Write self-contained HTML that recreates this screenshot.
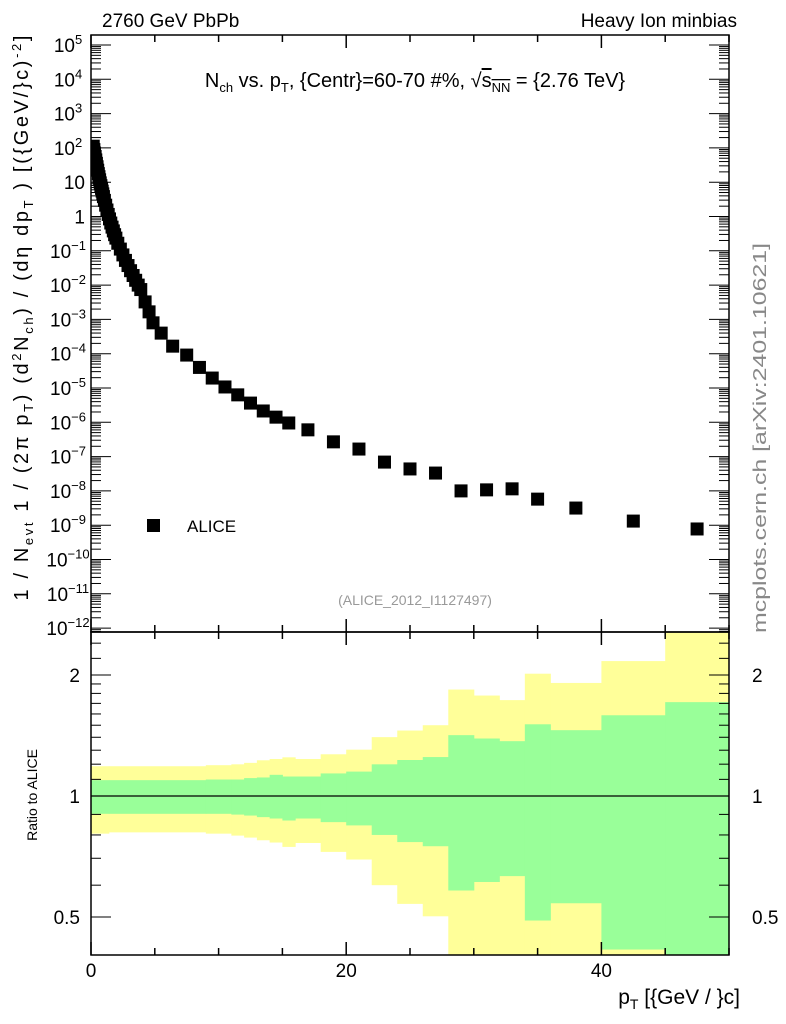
<!DOCTYPE html>
<html><head><meta charset="utf-8">
<style>
body{margin:0;background:#fff;}
svg{display:block;font-family:"Liberation Sans",sans-serif;}
</style></head>
<body>
<svg id="c" width="786" height="1024" viewBox="0 0 786 1024"></svg>
<script>
// ---- data ----
const ptValues = [0.175,0.225,0.275,0.325,0.375,0.425,0.475,0.525,0.575,0.625,0.675,0.725,0.775,0.825,0.875,0.925,0.975,1.05,1.15,1.25,1.35,1.45,1.55,1.65,1.75,1.85,1.95,2.1,2.3,2.5,2.7,2.9,3.1,3.3,3.5,3.7,3.9,4.24,4.55,4.86,5.5,6.4,7.5,8.5,9.5,10.5,11.5,12.5,13.5,14.5,15.5,17,19,21,23,25,27,29,31,33,35,38,42.5,47.5];
const log10Yield = [2.05,1.95,1.85,1.75,1.65,1.55,1.45,1.35,1.25,1.16,1.07,0.98,0.9,0.82,0.74,0.66,0.58,0.47,0.33,0.19,0.06,-0.07,-0.19,-0.31,-0.42,-0.53,-0.63,-0.78,-0.95,-1.12,-1.28,-1.43,-1.58,-1.72,-1.86,-2.0,-2.13,-2.49,-2.78,-3.1,-3.4,-3.78,-4.04,-4.4,-4.71,-4.97,-5.2,-5.44,-5.67,-5.85,-6.02,-6.22,-6.57,-6.78,-7.16,-7.36,-7.48,-8.0,-7.97,-7.94,-8.24,-8.5,-8.88,-9.11];
const binEdges = [0,1.4,9,11,12,13,14,15,16,18,20,22,24,26,28,30,32,34,36,40,45,50];
const yellowUp = [1.186,1.186,1.193,1.199,1.209,1.227,1.236,1.248,1.236,1.27,1.304,1.401,1.455,1.5,1.84,1.778,1.732,2.015,1.911,2.166,2.6];
const greenUp = [1.095,1.095,1.099,1.099,1.108,1.112,1.129,1.118,1.118,1.138,1.15,1.199,1.229,1.25,1.417,1.39,1.369,1.508,1.458,1.588,1.712];
const greenLo = [0.903,0.903,0.903,0.899,0.894,0.886,0.879,0.869,0.879,0.861,0.845,0.8,0.768,0.75,0.582,0.611,0.632,0.49,0.541,0.415,0.35];
const yellowLo = [0.806,0.812,0.806,0.797,0.788,0.776,0.766,0.747,0.764,0.726,0.695,0.6,0.539,0.502,0.35,0.35,0.35,0.35,0.35,0.35,0.35];
const xTickLabels = ["0","20","40"];
const ratioTickLabels = ["0.5","1","2"];

// ---- geometry ----
const L=91,R=729,T=35,MB=632,B=955;
const sx=v=>L+v*(R-L)/50;
const sy=lv=>45+(5-lv)*34.3;
const sr=r=>796-121*Math.log2(r);
const svg=document.getElementById('c');
const NS='http://www.w3.org/2000/svg';
function mk(tag,attrs,parent){const e=document.createElementNS(NS,tag);for(const k in attrs)e.setAttribute(k,attrs[k]);(parent||svg).appendChild(e);return e;}

const defs=mk('defs',{});
const cp=mk('clipPath',{id:'rc'},defs);mk('rect',{x:L,y:MB,width:R-L,height:B-MB},cp);
const cp2=mk('clipPath',{id:'mc'},defs);mk('rect',{x:L,y:T,width:R-L,height:MB-T},cp2);

const bands=mk('g',{'clip-path':'url(#rc)'});


for(let i=0;i<binEdges.length-1;i++){
  const x0=sx(binEdges[i]),x1=sx(binEdges[i+1]);
  const y=mk('rect',{x:x0,y:sr(yellowUp[i]),width:x1-x0+0.5,height:sr(yellowLo[i])-sr(yellowUp[i]),fill:'#ffff99'},bands);
  
  
}
for(let i=0;i<binEdges.length-1;i++){
  const x0=sx(binEdges[i]),x1=sx(binEdges[i+1]);
  const g=mk('rect',{x:x0,y:sr(greenUp[i]),width:x1-x0+0.5,height:sr(greenLo[i])-sr(greenUp[i]),fill:'#99ff99'},bands);
  
  
}
const ref=mk('line',{x1:L,x2:R,y1:sr(1),y2:sr(1),stroke:'#000','stroke-width':1.2});



const pts=mk('g',{'clip-path':'url(#mc)'});


for(let i=0;i<ptValues.length;i++){
  const p=mk('rect',{x:sx(ptValues[i])-6.5,y:sy(log10Yield[i])-6.5,width:13,height:13,fill:'#000'},pts);
  
  
}

const ax=mk('g',{stroke:'#000','stroke-width':1.5,fill:'none'});


mk('rect',{x:L,y:T,width:R-L,height:MB-T},ax);
mk('rect',{x:L,y:MB,width:R-L,height:B-MB},ax);
for(let v=0;v<=50;v+=5){
  const len=(v%20===0)?13:7;
  const x=sx(v);
  mk('line',{x1:x,x2:x,y1:T,y2:T+len},ax);
  mk('line',{x1:x,x2:x,y1:MB,y2:MB-len},ax);
  mk('line',{x1:x,x2:x,y1:MB,y2:MB+len},ax);
  mk('line',{x1:x,x2:x,y1:B,y2:B-len},ax);
}
const tk=mk('g',{stroke:'#000','stroke-width':1});
for(let d=-13;d<=5;d++){
  for(let m=1;m<10;m++){
    const lv=d+Math.log10(m);const y=sy(lv);
    if(y<T||y>MB)continue;
    const len=m===1?20:10;
    mk('line',{x1:L,x2:L+len,y1:y,y2:y},tk);
    mk('line',{x1:R,x2:R-len,y1:y,y2:y},tk);
  }
}
const rt=[0.4,0.5,0.6,0.7,0.8,0.9,1,1.1,1.2,1.3,1.4,1.5,1.6,1.7,1.8,1.9,2,2.2,2.4];
rt.forEach(r=>{const y=sr(r);if(y<MB||y>B)return;const len=(r===0.5||r===1||r===2)?20:10;
  mk('line',{x1:L,x2:L+len,y1:y,y2:y},tk);mk('line',{x1:R,x2:R-len,y1:y,y2:y},tk);});

function txt(s,attrs,name){const t=mk('text',attrs);t.innerHTML=s;return t;}
const ylabs=["10<tspan dy='-8' font-size='13'>5</tspan>","10<tspan dy='-8' font-size='13'>4</tspan>","10<tspan dy='-8' font-size='13'>3</tspan>","10<tspan dy='-8' font-size='13'>2</tspan>","10","1"];
for(let d=5;d>=-12;d--){
  let s;
  if(d>=0) s=ylabs[5-d]; else s="10<tspan dy='-8' font-size='13'>"+"\u2212"+(-d)+"</tspan>";
  txt(s,{x:d>=2||d<0?68:85,y:sy(d)+7,'font-size':19,'text-anchor':d>=2||d<0?'middle':'end'},'y-tick-label');
}
[0,20,40].forEach((v,i)=>txt(xTickLabels[i],{x:sx(v),y:977,'font-size':19,'text-anchor':'middle'},'x-tick-label'));
[0.5,1,2].forEach((r,i)=>{txt(ratioTickLabels[i],{x:80,y:sr(r)+7,'font-size':19,'text-anchor':'end'},'ratio-tick-label-left');
  txt(ratioTickLabels[i],{x:752,y:sr(r)+7,'font-size':19,'text-anchor':'start'},'ratio-tick-label-right');});
txt("2760 GeV PbPb",{x:102,y:27,'font-size':19},'top-left-label');
txt("Heavy Ion minbias",{x:737,y:27,'font-size':19,'text-anchor':'end'},'top-right-label');
txt("N<tspan dy='5' font-size='13'>ch</tspan><tspan dy='-5'> vs. p</tspan><tspan dy='5' font-size='13'>T</tspan><tspan dy='-5'>, {Centr}=60-70 #%, </tspan><tspan font-size='20'>√</tspan><tspan style='text-decoration:overline'>s<tspan dy='5' font-size='13'>NN</tspan></tspan><tspan dy='-5'> = {2.76 TeV}</tspan>",{x:415,y:87,'font-size':20,'text-anchor':'middle'},'plot-title');
mk('rect',{x:147,y:519,width:13,height:13,fill:'#000'});
txt("ALICE",{x:187,y:532,'font-size':17},'legend-label');
txt("(ALICE_2012_I1127497)",{x:415,y:605,'font-size':14,fill:'#999','text-anchor':'middle'},'analysis-id');
txt("mcplots.cern.ch [arXiv:2401.10621]",{x:766,y:438,'font-size':18,fill:'#888','text-anchor':'middle',textLength:390,lengthAdjust:'spacingAndGlyphs',transform:'rotate(-90 766 438)'},'watermark');
txt("1 / N<tspan dy='5' font-size='13'>evt</tspan><tspan dy='-5'> 1 / (2π   p</tspan><tspan dy='5' font-size='13'>T</tspan><tspan dy='-5'>)   (d</tspan><tspan dy='-7' font-size='13'>2</tspan><tspan dy='7'>N</tspan><tspan dy='5' font-size='13'>ch</tspan><tspan dy='-5'>) / (dη   dp</tspan><tspan dy='5' font-size='13'>T</tspan><tspan dy='-5'> )   [({GeV/}c)</tspan><tspan dy='-7' font-size='13'>-2</tspan><tspan dy='7'>]</tspan>",{x:28,y:318,'font-size':20,'text-anchor':'middle',textLength:565,lengthAdjust:'spacing',transform:'rotate(-90 28 318)'},'y-axis-title');
txt("Ratio to ALICE",{x:37,y:795,'font-size':14,'text-anchor':'middle',transform:'rotate(-90 37 795)'},'ratio-axis-title');
txt("p<tspan dy='5' font-size='14'>T</tspan><tspan dy='-5'> [{GeV / }c]</tspan>",{x:740,y:1004,'font-size':21,'text-anchor':'end'},'x-axis-title');
</script>
</body></html>
